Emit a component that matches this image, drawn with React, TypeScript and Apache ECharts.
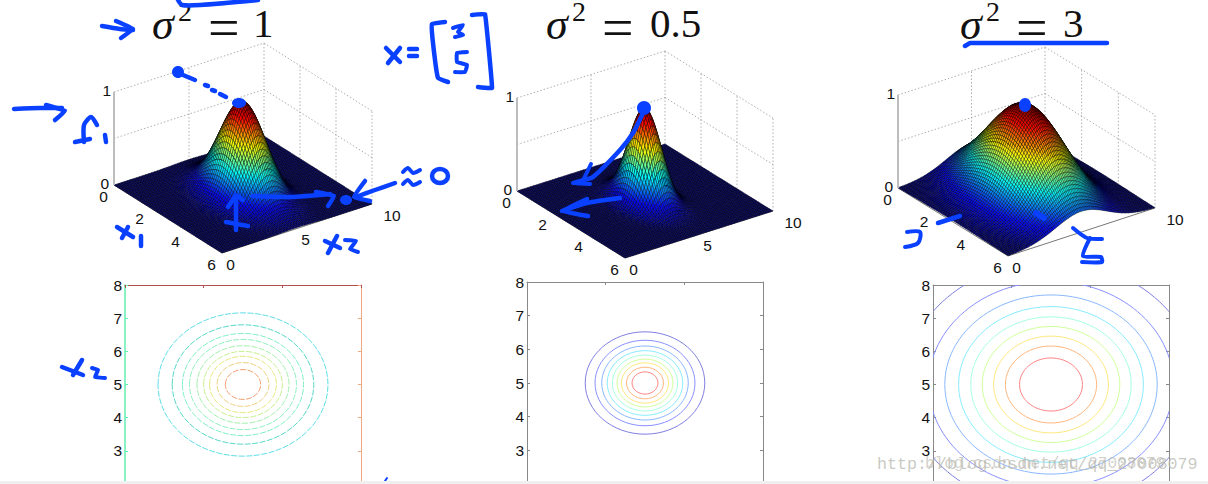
import React, { useEffect, useRef } from "react";
import * as echarts from "echarts";

// Cross-sections through the peak, sampled every 0.1 units of distance from it (estimated
// from the picture and the contour radii). A mesh node's height = section(dx1) * section(dx2).
const sectionVar1 = [1, .995, .98, .956, .923, .882, .835, .783, .726, .667, .607, .546, .487, .43, .375, .325, .278, .236, .198, .164, .135, .11, .089, .071, .056, .044, .034, .026, .02, .015, .011, .008, .006, .004, .003, .002, .002, .001, .001, 0, 0, 0, 0, 0, 0, 0, 0, 0, 0, 0, 0];
const sectionVar05 = [1, .99, .961, .914, .852, .779, .698, .613, .527, .445, .368, .298, .237, .185, .141, .105, .077, .056, .039, .027, .018, .012, .008, .005, .003, .002, .001, .001, 0, 0, 0, 0, 0, 0, 0, 0, 0, 0, 0, 0, 0, 0, 0, 0, 0, 0, 0, 0, 0, 0, 0];
const sectionVar3 = [1, .998, .993, .985, .974, .959, .942, .922, .899, .874, .846, .817, .787, .755, .721, .687, .653, .618, .583, .548, .513, .479, .446, .414, .383, .353, .324, .297, .271, .247, .223, .202, .181, .163, .146, .13, .115, .102, .09, .079, .069, .061, .053, .046, .04, .034, .029, .025, .021, .018, .015];

// Contour radii (x1/x2 units) for the nine levels, outermost first
const radiiVar1 = [2.16, 1.8, 1.54, 1.36, 1.17, 1.0, .85, .66, .45];
const radiiVar05 = [1.52, 1.27, 1.1, .96, .83, .71, .6, .47, .33];
const radiiVar3 = [3.72, 3.11, 2.7, 2.35, 2.04, 1.75, 1.46, 1.16, .8];

const contourColors = ["#8080e0", "#8a90ff", "#8ab8ff", "#88ecff", "#a8ffe0", "#d0ff9c", "#ffe880", "#ffb880", "#ff8484"];
const contourColorsFaded = ["#60dfe8", "#58d8c8", "#80f0c4", "#90f0c0", "#a4f0b0", "#c8f090", "#e8e880", "#f0d080", "#f4a070"];

const x1Ticks = [0, 2, 4, 6];
const x2Ticks = [0, 5, 10];
const zTicks = [0, 1];
const titleValues = ["1", "0.5", "3"];
const watermark = "http://blog.csdn.net/qq_27008079";

const BLUE = "#0a40ff";
const FONT = "Liberation Sans";

type Panel = { o: number[]; b: number[]; r: number[]; top: number; section: number[] };
const panels: Panel[] = [
  { o: [114, 185], b: [222, 253], r: [372, 204], top: 92, section: sectionVar1 },
  { o: [517, 191], b: [625, 258], r: [773, 211], top: 98, section: sectionVar05 },
  { o: [898, 188], b: [1008, 256], r: [1155, 208], top: 95, section: sectionVar3 },
];
const project = (p: Panel, x1: number, x2: number, z: number) => [
  p.o[0] + (x1 / 6) * (p.b[0] - p.o[0]) + (x2 / 10) * (p.r[0] - p.b[0]),
  p.o[1] + (x1 / 6) * (p.b[1] - p.o[1]) + (x2 / 10) * (p.r[1] - p.b[1]) - z * (p.o[1] - p.top),
];

const jet = (v: number) => {
  const c = (t: number) => Math.round(255 * Math.max(0, Math.min(1, 1.5 - Math.abs(4 * v - t))));
  return `rgb(${c(3)},${c(2)},${c(1)})`;
};

const surfaceCells: number[][] = [];
for (let i = 0; i < 60; i++) for (let j = 99; j >= 0; j--) surfaceCells.push([i, j]);

const surfaceSeries = (p: Panel) => ({
  type: "custom",
  xAxisIndex: 3,
  yAxisIndex: 6,
  z: 3,
  silent: true,
  progressive: 0,
  data: surfaceCells,
  renderItem: (_: any, api: any) => {
    const i = api.value(0);
    const j = api.value(1);
    const h = (a: number, b: number) => p.section[Math.abs(a - 30)] * p.section[Math.abs(b - 50)];
    const corners = [[i, j], [i + 1, j], [i + 1, j + 1], [i, j + 1]];
    const zs = corners.map((c) => h(c[0], c[1]));
    const avg = (zs[0] + zs[1] + zs[2] + zs[3]) / 4;
    return {
      type: "polygon",
      shape: { points: corners.map((c, k) => api.coord(project(p, c[0] * 0.1, c[1] * 0.1, zs[k]))) },
      style: { fill: jet(avg), stroke: "#000", lineWidth: 0.4, opacity: 1 },
    };
  },
});

const boxSeries = (p: Panel) => {
  const segs: number[][] = [];
  const add = (a: number[], b: number[]) => segs.push([...a, ...b]);
  [0.5, 1].forEach((z) => {
    add([0, 0, z], [0, 10, z]);
    add([0, 10, z], [6, 10, z]);
  });
  [5, 10].forEach((x2) => add([0, x2, 0], [0, x2, 1]));
  [2, 4, 6].forEach((x1) => add([x1, 10, 0], [x1, 10, 1]));
  return {
    type: "custom",
    xAxisIndex: 3,
    yAxisIndex: 6,
    z: 2,
    silent: true,
    data: segs,
    renderItem: (_: any, api: any) => {
      const a = api.coord(project(p, api.value(0), api.value(1), api.value(2)));
      const b = api.coord(project(p, api.value(3), api.value(4), api.value(5)));
      return {
        type: "line",
        shape: { x1: a[0], y1: a[1], x2: b[0], y2: b[1] },
        style: { stroke: "#9a9a9a", lineWidth: 0.8, lineDash: [1.5, 2] },
      };
    },
  };
};

const contourSeries = (idx: number, radii: number[], colors: string[], dash: any) => ({
  type: "custom",
  xAxisIndex: idx,
  yAxisIndex: idx * 2,
  clip: true,
  silent: true,
  z: 3,
  data: radii.map((r, k) => [3, 5, r, k]),
  renderItem: (params: any, api: any) => {
    const c = api.coord([api.value(0), api.value(1)]);
    const s = api.size([api.value(2), api.value(2)]);
    return {
      type: "ellipse",
      shape: { cx: c[0], cy: c[1], rx: s[0], ry: s[1] },
      style: { fill: "none", stroke: colors[api.value(3)], lineWidth: 1, lineDash: dash },
    };
  },
});

const cGrids = [
  { left: 125, top: 285, width: 236, height: 203 },
  { left: 527, top: 282, width: 236, height: 204 },
  { left: 933, top: 285, width: 236, height: 203 },
];
const axisColors = [
  { left: "#60f0b0", top: "#b05050", right: "#f0a880" },
  { left: "#888", top: "#888", right: "#888" },
  { left: "#888", top: "#888", right: "#888" },
];

const stroke = (points: number[][], lineWidth = 4.5, smooth = 0.25) => ({
  type: "polyline",
  z: 10,
  silent: true,
  shape: { points, smooth },
  style: { stroke: BLUE, fill: "none", lineWidth, lineCap: "round", lineJoin: "round" },
});
const dot = (cx: number, cy: number, rx: number, ry: number) => ({
  type: "ellipse",
  z: 10,
  silent: true,
  shape: { cx, cy, rx, ry },
  style: { fill: BLUE },
});

const handwriting = [
  // panel 1
  stroke([[178, 0], [182, 5], [200, 5], [258, 0]]),
  stroke([[102, 26], [120, 29], [133, 30]]),
  stroke([[116, 21], [133, 29], [121, 38]], 4.5, 0.1),
  stroke([[14, 109], [40, 108], [62, 108]]),
  stroke([[46, 105], [65, 111], [55, 120]], 4.5, 0.1),
  stroke([[84, 142], [84, 125], [91, 117], [97, 125]]),
  stroke([[75, 142], [90, 139]]),
  stroke([[105, 135], [106, 142]]),
  dot(178, 72, 6, 6),
  stroke([[183, 75], [195, 80]]),
  stroke([[205, 85], [208, 86]]),
  stroke([[212, 90], [215, 91]]),
  stroke([[220, 94], [226, 97]]),
  dot(239, 103, 7, 5),
  stroke([[117, 227], [133, 237]], 4.5, 0),
  stroke([[128, 227], [122, 238]], 4.5, 0),
  stroke([[141, 236], [141, 246]], 4.5, 0),
  stroke([[325, 241], [340, 248]], 4.5, 0),
  stroke([[337, 236], [328, 253]], 4.5, 0),
  stroke([[345, 240], [356, 241], [350, 249], [358, 252]], 4, 0.1),
  stroke([[236, 197], [236, 230]], 4.5, 0),
  stroke([[228, 207], [236, 195], [243, 200]], 4.5, 0),
  stroke([[226, 222], [248, 226]], 4.5, 0),
  stroke([[253, 196], [290, 197], [330, 194]]),
  stroke([[316, 192], [334, 196], [328, 206]], 4.5, 0.1),
  dot(346, 200, 6, 5),
  stroke([[395, 183], [375, 190], [356, 197]]),
  stroke([[365, 181], [354, 197], [370, 201]], 4.5, 0.1),
  stroke([[403, 172], [408, 168], [413, 173], [420, 170]], 4),
  stroke([[403, 184], [408, 180], [413, 185], [420, 182]], 4),
  { type: "ellipse", z: 10, silent: true, shape: { cx: 440, cy: 176, rx: 8, ry: 7 }, style: { fill: "none", stroke: BLUE, lineWidth: 4.5 } },
  // panel 2
  stroke([[386, 48], [400, 62]], 4.5, 0),
  stroke([[400, 48], [388, 63]], 4.5, 0),
  stroke([[409, 49], [417, 49]], 4.5, 0),
  stroke([[409, 56], [417, 56]], 4.5, 0),
  stroke([[445, 22], [432, 24], [433, 43], [438, 78], [448, 82]], 4.5, 0.1),
  stroke([[453, 28], [463, 25], [458, 32], [463, 35], [455, 37]], 4, 0.1),
  stroke([[467, 52], [457, 53], [457, 62], [467, 65], [465, 72], [455, 72]], 4, 0.1),
  stroke([[472, 15], [485, 14], [492, 88], [478, 87]], 4.5, 0.05),
  dot(644, 108, 7, 7),
  stroke([[643, 113], [633, 133], [620, 150], [593, 177], [583, 180]]),
  stroke([[591, 164], [583, 180], [573, 183], [590, 184]], 4, 0.05),
  stroke([[620, 198], [587, 203], [562, 211]]),
  stroke([[587, 199], [562, 211], [588, 216]], 4.5, 0.05),
  // panel 3
  stroke([[965, 46], [970, 43], [1107, 43]], 4.5, 0.05),
  dot(1025, 105, 6, 7),
  stroke([[1036, 213], [1044, 218]], 6, 0),
  stroke([[938, 223], [960, 216]]),
  stroke([[907, 232], [920, 232], [918, 243], [905, 247]], 4, 0.3),
  stroke([[1073, 228], [1087, 238], [1102, 239]], 4),
  stroke([[1090, 238], [1083, 256], [1101, 257], [1102, 262], [1082, 262]], 4, 0.2),
  // x2 next to the first contour plot
  stroke([[62, 367], [83, 375]], 4.5, 0),
  stroke([[82, 360], [73, 375]], 4.5, 0),
  stroke([[92, 368], [98, 370], [95, 377], [105, 378]], 4, 0.1),
  stroke([[385, 481], [387, 478]], 2, 0),
];

const text = (x: number, y: number, t: string, size: number, extra: any = {}, family = "Liberation Serif") => ({
  type: "text",
  z: 9,
  silent: true,
  x,
  y,
  style: { text: t, font: `${extra.italic ? "italic " : ""}${size}px "${family}"`, fill: extra.fill || "#111", align: extra.align || "left", verticalAlign: extra.vertical || "top", opacity: extra.opacity ?? 1 },
});

const titleAt = [
  { s: 152, sup: 178, eq: 208, v: 253 },
  { s: 546, sup: 572, eq: 602, v: 650 },
  { s: 960, sup: 986, eq: 1016, v: 1063 },
];
const titles = titleAt.flatMap((a, k) => [
  text(a.s, 2, "σ", 44, { italic: true }),
  text(a.sup, -3, "2", 28),
  text(a.eq, 0, "=", 56),
  text(a.v, 2, titleValues[k], 41),
]);

const tickLabels = panels.flatMap((p, k) => [
  ...x1Ticks.map((v) => {
    const q = project(p, v, 0, 0);
    return text(q[0] - 10.5, q[1] + 11, String(v), 15.5, { align: "center", vertical: "middle" }, FONT);
  }),
  ...x2Ticks
    .filter((v) => !(k === 2 && v === 5))
    .map((v) => {
      const q = project(p, 6, v, 0);
      return text(q[0] + (v === 10 ? 20 : 8.5), q[1] + 11, String(v), 15.5, { align: "center", vertical: "middle" }, FONT);
    }),
  ...zTicks.map((v) => {
    const q = project(p, 0, 0, v);
    return text(q[0] - (v ? 3 : 5), q[1] - 2, String(v), 15.5, { align: "right", vertical: "middle" }, FONT);
  }),
]);

const zAxisBars = panels.map((p) => ({
  type: "line",
  z: 4,
  silent: true,
  shape: { x1: p.o[0], y1: p.o[1], x2: p.o[0], y2: p.top },
  style: { stroke: "#bdbdbd", lineWidth: 2 },
}));
const floorEdges = panels.map((p) => ({
  type: "polyline",
  z: 1,
  silent: true,
  shape: { points: [p.o, p.b, p.r] },
  style: { stroke: "#777", fill: "none", lineWidth: 1 },
}));

export default function App() {
  const ref = useRef<HTMLDivElement>(null);
  useEffect(() => {
    document.body.style.margin = "0";
    const chart = echarts.init(ref.current!, undefined, { renderer: "svg" });
    const xAxis: any[] = cGrids.map((_, i) => ({
      type: "value",
      gridIndex: i,
      position: "top",
      min: 0,
      max: 6,
      interval: 2,
      axisLine: { show: true, lineStyle: { color: axisColors[i].top, width: 1 } },
      axisTick: { show: true, inside: true, length: 3, lineStyle: { color: axisColors[i].top } },
      axisLabel: { show: false },
      splitLine: { show: false },
    }));
    xAxis.push({ type: "value", gridIndex: 3, min: 0, max: 1208, show: false });
    const yAxis: any[] = cGrids.flatMap((_, i) => [
      {
        type: "value",
        gridIndex: i,
        position: "left",
        min: 2,
        max: 8,
        interval: 1,
        axisLine: { show: true, lineStyle: { color: axisColors[i].left, width: i === 0 ? 1.5 : 1 } },
        axisTick: { show: true, inside: true, length: 3, lineStyle: { color: axisColors[i].left } },
        axisLabel: { show: true, color: "#111", fontFamily: FONT, fontSize: 15.5, margin: 3, showMinLabel: false },
        splitLine: { show: false },
      },
      {
        type: "value",
        gridIndex: i,
        position: "right",
        min: 2,
        max: 8,
        interval: 1,
        axisLine: { show: true, lineStyle: { color: axisColors[i].right, width: 1 } },
        axisTick: { show: true, inside: true, length: 3, lineStyle: { color: axisColors[i].right } },
        axisLabel: { show: false },
        splitLine: { show: false },
      },
    ]);
    yAxis.push({ type: "value", gridIndex: 3, min: 0, max: 484, inverse: true, show: false });
    chart.setOption({
      animation: false,
      backgroundColor: "#fff",
      grid: [...cGrids, { left: 0, top: 0, width: 1208, height: 484 }],
      xAxis,
      yAxis,
      series: [
        ...panels.map(boxSeries),
        ...panels.map(surfaceSeries),
        contourSeries(0, radiiVar1, contourColorsFaded, [6, 1.5]),
        contourSeries(1, radiiVar05, contourColors, null),
        contourSeries(2, radiiVar3, contourColors, null),
      ],
      graphic: {
        elements: [
          ...floorEdges,
          ...zAxisBars,
          ...tickLabels,
          ...titles,
          ...handwriting,
          text(877, 456, watermark, 16.7, { fill: "#b8b8b0", opacity: 0.75 }, "Liberation Mono"),
          text(925, 456, watermark.slice(7), 16, { fill: "#b8b8b0", opacity: 0.65 }, "Liberation Mono"),
          { type: "rect", z: 20, silent: true, shape: { x: 0, y: 481, width: 1208, height: 3 }, style: { fill: "#f0f0f0" } },
        ],
      },
    });
    return () => chart.dispose();
  }, []);
  return <div ref={ref} style={{ position: "fixed", left: 0, top: 0, width: 1208, height: 484 }} />;
}
